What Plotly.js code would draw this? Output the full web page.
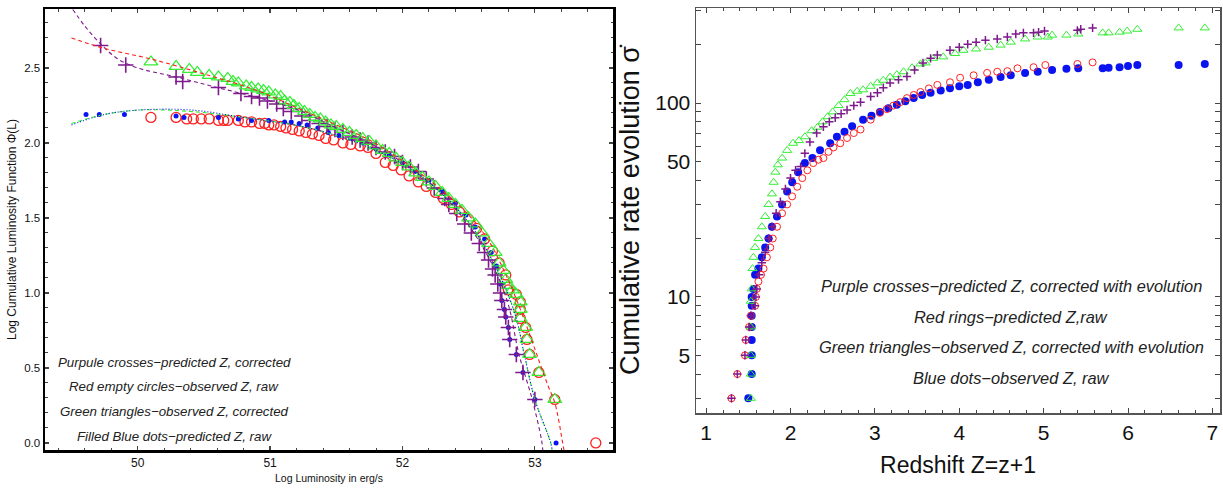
<!DOCTYPE html>
<html><head><meta charset="utf-8">
<script src="https://cdn.plot.ly/plotly-3.0.1.min.js"></script>
<style>html,body{margin:0;padding:0;background:#fff}#chart{width:1223px;height:490px}</style>
</head><body><div id="chart"></div>
<script>
// ---------- Left panel: cumulative luminosity function ----------
const lPurpleX = [49.72,49.91,50.29,50.34,50.61,50.78,50.86,50.92,50.98,51.05,51.10,51.16,51.24,51.30,51.37,51.43,51.49,51.55,51.62,51.68,51.74,51.80,51.87,51.94,52.00,52.06,52.12,52.18,52.24,52.32,52.35,52.41,52.47,52.52,52.58,52.62,52.65,52.68,52.70,52.72,52.74,52.75,52.77,52.78,52.80,52.81,52.86,52.91,53.00];
const lPurpleY = [2.65,2.52,2.44,2.41,2.37,2.33,2.31,2.30,2.28,2.26,2.23,2.21,2.18,2.15,2.13,2.11,2.09,2.07,2.04,2.02,2.00,1.97,1.94,1.91,1.87,1.84,1.81,1.76,1.70,1.63,1.59,1.53,1.46,1.40,1.33,1.27,1.22,1.16,1.12,1.06,1.00,0.95,0.89,0.84,0.77,0.69,0.59,0.47,0.29];
const lRedX = [50.10,50.29,50.37,50.42,50.48,50.54,50.61,50.65,50.68,50.76,50.81,50.86,50.92,50.96,50.99,51.03,51.08,51.12,51.17,51.22,51.27,51.32,51.37,51.42,51.48,51.55,51.61,51.68,51.74,51.80,51.87,51.93,51.99,52.05,52.12,52.18,52.25,52.31,52.37,52.43,52.50,52.56,52.62,52.68,52.73,52.78,52.80,52.86,52.89,52.89,52.89,52.93,52.94,52.96,53.03,53.15,53.46];
const lRedY = [2.17,2.17,2.16,2.16,2.16,2.16,2.15,2.15,2.15,2.15,2.14,2.14,2.13,2.13,2.12,2.12,2.11,2.10,2.09,2.08,2.07,2.06,2.05,2.03,2.02,2.00,1.99,1.98,1.97,1.93,1.87,1.85,1.82,1.78,1.74,1.71,1.67,1.63,1.59,1.54,1.49,1.43,1.36,1.28,1.20,1.12,1.02,0.99,0.94,0.89,0.83,0.77,0.69,0.59,0.47,0.29,0.0];
const lGreenX = [50.10,50.29,50.39,50.45,50.54,50.61,50.68,50.72,50.76,50.82,50.86,50.91,50.95,50.99,51.04,51.08,51.11,51.15,51.18,51.22,51.26,51.30,51.34,51.38,51.42,51.46,51.50,51.55,51.60,51.65,51.70,51.75,51.80,51.85,51.90,51.95,52.00,52.05,52.10,52.15,52.20,52.25,52.30,52.35,52.40,52.45,52.50,52.55,52.60,52.65,52.70,52.73,52.76,52.78,52.80,52.83,52.86,52.89,52.89,52.89,52.93,52.94,52.96,53.03,53.15];
const lGreenY = [2.54,2.51,2.49,2.47,2.45,2.44,2.43,2.41,2.40,2.38,2.37,2.36,2.35,2.34,2.32,2.31,2.28,2.27,2.25,2.23,2.21,2.19,2.17,2.16,2.14,2.12,2.11,2.09,2.07,2.05,2.03,2.01,1.98,1.95,1.93,1.90,1.87,1.84,1.80,1.77,1.74,1.71,1.67,1.63,1.59,1.55,1.50,1.46,1.40,1.33,1.27,1.20,1.15,1.09,1.05,1.02,0.99,0.94,0.89,0.83,0.77,0.69,0.59,0.47,0.29];
const lBlueX = [49.61,49.71,49.90,50.29,50.35,50.61,50.76,50.86,50.99,51.11,51.16,51.22,51.28,51.36,51.44,51.52,51.61,51.70,51.80,51.90,52.00,52.10,52.20,52.30,52.40,52.48,52.55,52.62,52.67,52.71,52.74,52.75,52.77,52.78,52.80,52.81,52.86,52.91,53.00,53.16];
const lBlueY = [2.19,2.19,2.19,2.18,2.17,2.17,2.16,2.15,2.15,2.14,2.14,2.13,2.12,2.10,2.07,2.05,2.03,2.00,1.96,1.92,1.87,1.81,1.75,1.68,1.60,1.52,1.44,1.36,1.27,1.18,1.06,0.95,0.89,0.84,0.77,0.69,0.59,0.47,0.29,0.0];
// fitted curves
const fitPurpleX = [49.51,49.60,49.72,49.85,50.00,50.29,50.60,51.00,51.24,51.50,51.75,52.00,52.25,52.50,52.70,52.80,52.88,52.98,53.05,53.06];
const fitPurpleY = [2.89,2.78,2.66,2.56,2.50,2.44,2.37,2.28,2.21,2.10,2.00,1.87,1.70,1.45,1.15,0.92,0.59,0.29,0.02,-0.05];
const fitRedX = [49.50,49.75,50.10,50.50,50.90,51.24,51.50,51.75,52.00,52.25,52.50,52.65,52.75,52.85,52.95,53.03,53.10,53.15,53.21,53.22];
const fitRedY = [2.70,2.63,2.56,2.46,2.35,2.22,2.12,2.02,1.88,1.72,1.52,1.35,1.18,0.98,0.75,0.55,0.38,0.27,0.0,-0.05];
const fitGreenX = [49.50,49.75,50.02,50.40,50.80,51.24,51.50,51.75,52.00,52.25,52.50,52.70,52.85,52.92,53.00,53.12,53.13];
const fitGreenY = [2.13,2.19,2.22,2.21,2.17,2.11,2.05,1.97,1.86,1.70,1.47,1.18,0.86,0.59,0.29,0.0,-0.05];
const fitBlueX = [49.50,49.75,50.02,50.40,50.80,51.24,51.50,51.75,52.00,52.25,52.50,52.70,52.85,52.92,53.00,53.12,53.13];
const fitBlueY = [2.12,2.19,2.22,2.22,2.17,2.11,2.05,1.97,1.86,1.70,1.47,1.18,0.86,0.59,0.29,0.0,-0.05];
const lXTicks = [50,51,52,53];
const lYTicks = [0,0.5,1,1.5,2,2.5];
const lYTickText = ['0.0','0.5','1.0','1.5','2.0','2.5'];
const lNotes = ['Purpule crosses\u2212predicted Z, corrected','Red empty circles\u2212observed Z, raw','Green triangles\u2212observed Z, corrected','Filled Blue dots\u2212predicted Z, raw'];

// ---------- Right panel: cumulative rate evolution ----------
const rBlueX = [1.50,1.54,1.54,1.54,1.54,1.54,1.54,1.54,1.56,1.58,1.62,1.66,1.70,1.74,1.78,1.84,1.90,1.96,2.02,2.09,2.17,2.26,2.35,2.47,2.55,2.64,2.73,2.86,2.96,3.06,3.16,3.26,3.36,3.46,3.56,3.66,3.78,3.89,4.00,4.10,4.22,4.35,4.49,4.61,4.78,4.93,5.10,5.27,5.41,5.70,5.77,5.90,6.00,6.11,6.60,6.91];
const rBlueY = [3,4,5,6,7,8,9,10,11,13,14,16,18,20,23,26,30,35,39,44,49,52,57,62,67,71,76,82,86,90,94,98,102,106,110,113,116,119,122,124,128,132,136,139,143,145,148,150,151,151,152,153,155,157,157,159];
const rRedX = [1.30,1.37,1.46,1.47,1.51,1.53,1.58,1.59,1.60,1.62,1.65,1.68,1.72,1.76,1.79,1.84,1.90,1.96,2.02,2.08,2.14,2.20,2.27,2.33,2.39,2.45,2.51,2.59,2.67,2.75,2.83,2.95,3.06,3.14,3.22,3.30,3.38,3.46,3.54,3.64,3.74,3.89,4.01,4.17,4.33,4.45,4.57,4.69,4.88,5.02,5.40,5.58];
const rRedY = [3,4,5,6,7,8,9,10,11,12,13,14,16,18,20,23,27,30,33,37,41,45,49,51,52,56,59,62,66,70,73,82,89,93,97,101,106,110,114,119,124,128,135,139,143,145,146,151,153,157,159,162];
const rGreenX = [1.53,1.53,1.53,1.53,1.53,1.54,1.55,1.56,1.58,1.62,1.66,1.70,1.74,1.78,1.80,1.82,1.85,1.90,1.96,2.03,2.10,2.17,2.25,2.32,2.38,2.44,2.50,2.57,2.64,2.71,2.79,2.86,2.95,3.03,3.10,3.18,3.26,3.34,3.44,3.54,3.60,3.69,3.81,3.95,4.05,4.20,4.35,4.49,4.61,4.78,4.93,5.05,5.10,5.27,5.41,5.70,5.77,5.90,5.99,6.11,6.60,6.91];
const rGreenY = [3,4,5,7,9.5,11,14,16,18,20,23,26,30,34,39,44,48,52,57,62,64,67,72,75,80,85,90,97,104,112,115,117,122,127,131,136,140,145,152,159,161,170,173,180,187,190,194,199,206,214,219,219,224,224,227,230,230,232,235,240,244,244];
const rPurpleX = [1.30,1.37,1.46,1.47,1.51,1.53,1.58,1.59,1.60,1.63,1.66,1.70,1.74,1.78,1.83,1.88,1.94,2.00,2.06,2.12,2.17,2.23,2.31,2.39,2.46,2.53,2.60,2.67,2.75,2.83,2.95,3.03,3.10,3.18,3.28,3.38,3.47,3.57,3.66,3.74,3.89,4.00,4.10,4.20,4.31,4.45,4.57,4.67,4.76,4.88,4.94,5.01,5.40,5.44,5.58];
const rPurpleY = [3,4,5,6,7,8,9,10,11,13,15,17,20,23,27,31,36,41,45,47,55,63,70,75.5,80,84,88,92,97,101,108,113,120,127,132,137,148,161,170,177,187,194,201,206,211,214,219,227,230,230,232,235,237,240,244];
const rXTicks = [1,2,3,4,5,6,7];
const rYTicks = [3,4,5,6,7,8,9,10,20,30,40,50,60,70,80,90,100,200,300];
const rYTickText = ['','','5','','','','','10','','','','50','','','','','100','',''];
const rNotes = ['Purple crosses\u2212predicted Z, corrected with evolution','Red rings\u2212predicted Z,raw','Green triangles\u2212observed Z, corrected with evolution','Blue dots\u2212observed Z, raw'];

const PURPLE = '#7d1a8c', RED = '#ff2020', GREEN = '#33ee33', BLUE = '#0a14f0';
const FONT = 'Liberation Sans, Arial, sans-serif';

function pts(x, y, sym, size, color, lw, ax) {
  return {x: x, y: y, type: 'scatter', mode: 'markers', xaxis: ax[0], yaxis: ax[1], showlegend: false, hoverinfo: 'skip',
    marker: {symbol: sym, size: size, color: color, line: {color: color, width: lw}}};
}
function curve(x, y, color, dash, w) {
  return {x: x, y: y, type: 'scatter', mode: 'lines', xaxis: 'x', yaxis: 'y', showlegend: false, hoverinfo: 'skip',
    line: {color: color, dash: dash, width: w, shape: 'spline'}};
}
const L = ['x','y'], R = ['x2','y2'];
const data = [
  pts(lRedX, lRedY, 'circle-open', 10, RED, 1.3, L),
  pts(lBlueX, lBlueY, 'circle', 5, BLUE, 0, L),
  pts(lPurpleX, lPurpleY, 'cross-thin-open', 11, PURPLE, 1.6, L),
  pts(lGreenX, lGreenY, 'triangle-up-open', 12, GREEN, 1.3, L),
  curve(fitPurpleX, fitPurpleY, PURPLE, '4px,3px', 1.1),
  curve(fitRedX, fitRedY, RED, '4px,3px', 1.1),
  curve(fitGreenX, fitGreenY, GREEN, '4px,3px', 1.1),
  curve(fitBlueX, fitBlueY, BLUE, '1px,2px', 1.1),
  pts(rBlueX, rBlueY, 'circle', 8, BLUE, 0, R),
  pts(rRedX, rRedY, 'circle-open', 7, RED, 1, R),
  pts(rGreenX, rGreenY, 'triangle-up-open', 8, GREEN, 1, R),
  pts(rPurpleX, rPurpleY, 'cross-thin-open', 6, PURPLE, 1.5, R)
];

const annotations = [];
const lY = [362, 386, 411, 436];
lNotes.forEach((t, i) => annotations.push({text: '<i>' + t + '</i>', xref: 'paper', yref: 'paper', x: 174/1223, y: 1 - lY[i]/490,
  xanchor: 'center', yanchor: 'middle', showarrow: false, font: {family: FONT, size: 13.3, color: '#222'}}));
const rY = [286, 317, 347, 378];
rNotes.forEach((t, i) => annotations.push({text: '<i>' + t + '</i>', xref: 'paper', yref: 'paper', x: 1011/1223, y: 1 - rY[i]/490,
  xanchor: 'center', yanchor: 'middle', showarrow: false, font: {family: FONT, size: 16.4, color: '#222'}}));

const layout = {
  width: 1223, height: 490, margin: {l: 0, r: 0, t: 0, b: 0}, paper_bgcolor: '#fff', plot_bgcolor: '#fff',
  font: {family: FONT, color: '#111'}, showlegend: false,
  xaxis: {domain: [45/1223, 613/1223], range: [49.30, 53.59], tickvals: lXTicks, ticks: 'inside', ticklen: 4, tickwidth: 1.2,
    minor: {dtick: 0.2, tick0: 50, ticks: 'inside', ticklen: 2.5, tickwidth: 1}, showline: true, linewidth: 2.5, linecolor: '#000',
    mirror: 'ticks', showgrid: false, zeroline: false, tickfont: {size: 12}, automargin: false,
    title: {text: 'Log Luminosity in erg/s', font: {size: 10.5}, standoff: 6}},
  yaxis: {domain: [1 - 450/490, 1 - 9/490], range: [-0.047, 2.893], tickvals: lYTicks, ticktext: lYTickText, ticks: 'inside', ticklen: 4, tickwidth: 1.2,
    minor: {dtick: 0.1, tick0: 0, ticks: 'inside', ticklen: 2.5, tickwidth: 1}, showline: true, linewidth: 2.5, linecolor: '#000',
    mirror: 'ticks', showgrid: false, zeroline: false, tickfont: {size: 11.5}, automargin: false,
    title: {text: 'Log Cumulative Luminosity Function \u03A6(L)', font: {size: 12}, standoff: 5}},
  xaxis2: {domain: [696/1223, 1220/1223], range: [0.88, 7.09], anchor: 'y2', tickvals: rXTicks, ticks: 'inside', ticklen: 5, tickwidth: 1,
    minor: {dtick: 0.2, tick0: 1, ticks: 'inside', ticklen: 3, tickwidth: 1}, showline: true, linewidth: 1.5, linecolor: '#555',
    mirror: 'ticks', showgrid: false, zeroline: false, tickfont: {size: 21}, automargin: false,
    title: {text: 'Redshift Z=z+1', font: {size: 23}, standoff: 14}},
  yaxis2: {domain: [1 - 413/490, 1 - 8/490], type: 'log', range: [Math.log10(2.52), 2.49], anchor: 'x2', tickvals: rYTicks, ticktext: rYTickText,
    ticks: 'inside', ticklen: 5, tickwidth: 1, showline: true, linewidth: 1.5, linecolor: '#555',
    mirror: 'ticks', showgrid: false, zeroline: false, tickfont: {size: 21}, automargin: false,
    title: {text: 'Cumulative rate evolution \u03C3\u0307', font: {size: 27}, standoff: 8}},
  annotations: annotations
};
Plotly.newPlot('chart', data, layout, {displayModeBar: false, staticPlot: true});
</script></body></html>
